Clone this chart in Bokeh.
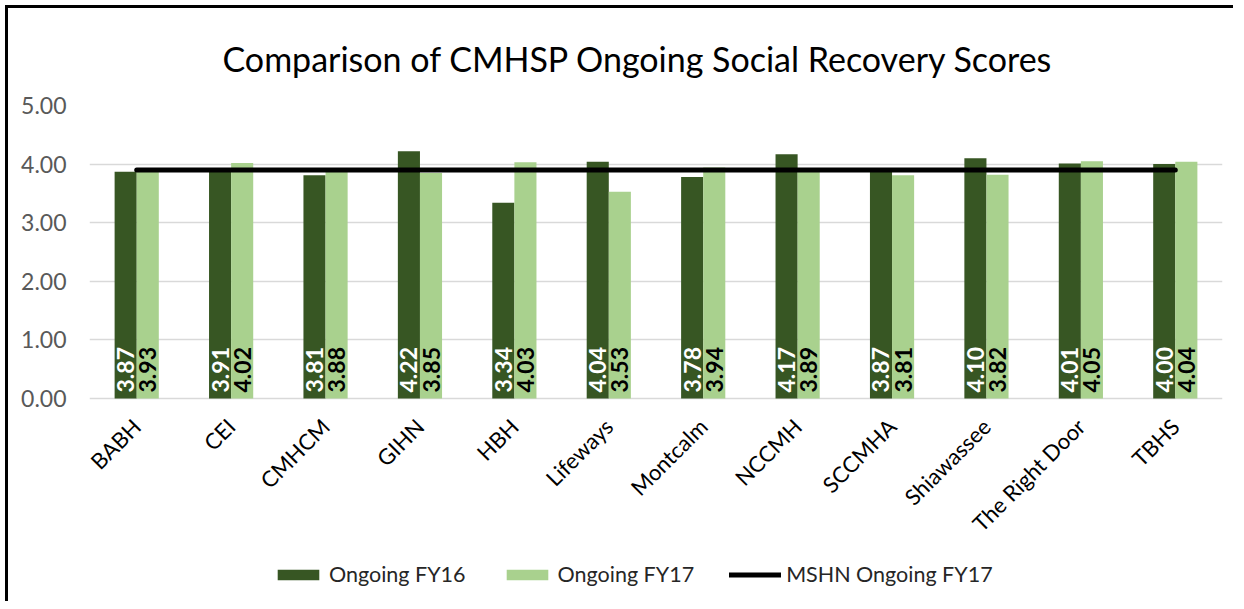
import math
from bokeh.plotting import figure
from bokeh.models import (ColumnDataSource, FactorRange, Range1d, Legend, LegendItem,
                          NumeralTickFormatter, FixedTicker)
from bokeh.transform import dodge
from bokeh.core.properties import value
from bokeh.embed import file_html
from bokeh.resources import INLINE

categories = ["BABH", "CEI", "CMHCM", "GIHN", "HBH", "Lifeways", "Montcalm",
              "NCCMH", "SCCMHA", "Shiawassee", "The Right Door", "TBHS"]
ongoing_fy16 = [3.87, 3.91, 3.81, 4.22, 3.34, 4.04, 3.78, 4.17, 3.87, 4.10, 4.01, 4.00]
ongoing_fy17 = [3.93, 4.02, 3.88, 3.85, 4.03, 3.53, 3.94, 3.89, 3.81, 3.82, 4.05, 4.04]
mshn_ongoing_fy17 = [3.90] * len(categories)
y_ticks = [0, 1, 2, 3, 4, 5]

FONT = "Lato"
DARK = "#375623"
LIGHT = "#a9d18e"

src = ColumnDataSource(dict(
    cat=categories,
    fy16=ongoing_fy16,
    fy17=ongoing_fy17,
    mshn=mshn_ongoing_fy17,
    zero=[0] * len(categories),
    l16=[f"{v:.2f}" for v in ongoing_fy16],
    l17=[f"{v:.2f}" for v in ongoing_fy17],
))

# layout geometry (pixels)
W, H = 1228, 596
TOP, LEFT, RIGHT = 97, 81, 14
FRAME_H = H - TOP          # frame reaches the bottom of the canvas
AXIS_PX = 293              # pixels between 0 and 5 on the value axis
y_start = -5 * (FRAME_H - AXIS_PX) / AXIS_PX

p = figure(x_range=FactorRange(*categories, range_padding=0),
           y_range=Range1d(y_start, 5),
           width=W, height=H,
           output_backend="svg", toolbar_location=None,
           min_border_left=LEFT, min_border_right=RIGHT,
           min_border_top=TOP, min_border_bottom=0)
p.styles = {"margin-left": "8px", "margin-top": "8px",
            "box-shadow": "-3px -3px 0px 0px #000",
            "overflow": "hidden"}
p.outline_line_color = None
p.background_fill_color = "white"
p.border_fill_color = "white"

off = 0.117
w = 0.234
r16 = p.vbar(x=dodge("cat", -off, range=p.x_range), top="fy16", bottom=0, width=w,
             source=src, fill_color=DARK, line_color=None)
r17 = p.vbar(x=dodge("cat", off, range=p.x_range), top="fy17", bottom=0, width=w,
             source=src, fill_color=LIGHT, line_color=None)

p.text(x=dodge("cat", -off, range=p.x_range), y="zero", text="l16", source=src,
       angle=math.pi / 2, text_align="left", text_baseline="middle", y_offset=-6,
       text_font=value(FONT), text_font_style="bold", text_font_size="23px",
       text_color="white")
p.text(x=dodge("cat", off, range=p.x_range), y="zero", text="l17", source=src,
       angle=math.pi / 2, text_align="left", text_baseline="middle", y_offset=-6,
       text_font=value(FONT), text_font_style="bold", text_font_size="23px",
       text_color="black")

rl = p.line(x="cat", y="mshn", source=src, line_color="black", line_width=5,
            line_cap="round")

# title
p.title.text = "Comparison of CMHSP Ongoing Social Recovery Scores"
p.title.align = "left"
p.title.offset = 133
p.title.text_font = FONT
p.title.text_font_size = "34px"
p.title.text_font_style = "normal"
p.title.text_color = "black"
p.title.standoff = 53

# axes
p.yaxis.ticker = FixedTicker(ticks=y_ticks)
p.yaxis.formatter = NumeralTickFormatter(format="0.00")
p.yaxis.axis_line_color = None
p.yaxis.major_tick_line_color = None
p.yaxis.minor_tick_line_color = None
p.yaxis.major_label_text_font = FONT
p.yaxis.major_label_text_font_size = "23px"
p.yaxis.major_label_text_color = "#595959"
p.yaxis.major_label_standoff = 17

p.xaxis.fixed_location = 0
p.xaxis.axis_line_color = None
p.xaxis.major_tick_line_color = None
p.xaxis.major_label_orientation = math.pi / 4
p.xaxis.major_label_text_font = FONT
p.xaxis.major_label_text_font_size = "22px"
p.xaxis.major_label_text_color = "black"
p.xaxis.major_label_standoff = 18

p.xgrid.grid_line_color = None
p.ygrid.grid_line_color = "#d9d9d9"
p.ygrid.grid_line_width = 1.5

legend = Legend(items=[LegendItem(label="Ongoing FY16", renderers=[r16]),
                       LegendItem(label="Ongoing FY17", renderers=[r17]),
                       LegendItem(label="MSHN Ongoing FY17", renderers=[rl])],
                orientation="horizontal", location=(183, 17),
                glyph_width=52, glyph_height=13, label_standoff=5, spacing=35,
                padding=0, margin=0, border_line_color=None,
                background_fill_alpha=0,
                label_text_font=FONT, label_text_font_size="21.5px",
                label_text_color="#262626", label_height=22)
p.add_layout(legend, "center")

open("out.html", "w").write(file_html(p, INLINE))
